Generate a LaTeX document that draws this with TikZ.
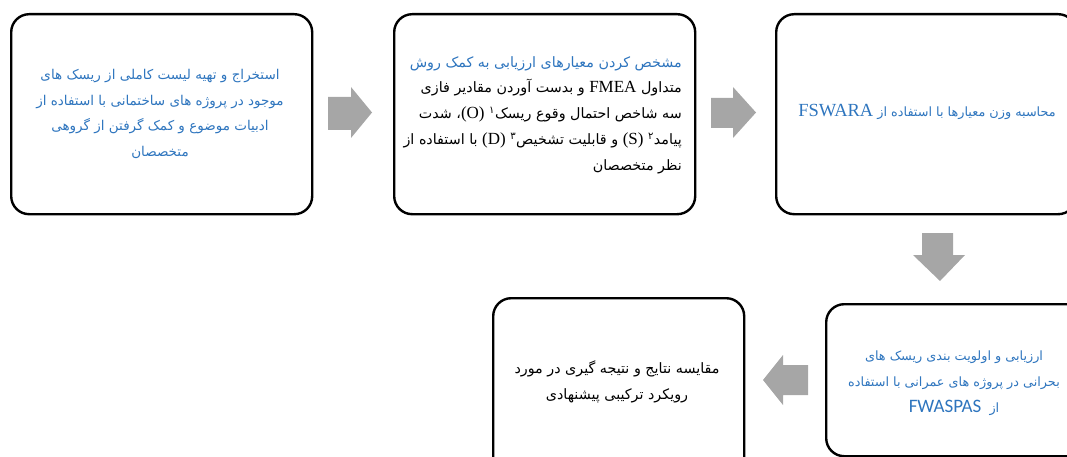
\documentclass[tikz,border=0pt]{standalone}
\usepackage{fontspec}
\usepackage{xcolor}
\TeXXeTstate=1
\newfontfamily\farsifont[Script=Arabic]{DejaVu Sans}
\newfontfamily\latserif{Liberation Serif}
\newfontfamily\carlitofont{Carlito}
\definecolor{tblue}{RGB}{46,117,190}
\definecolor{agray}{RGB}{166,166,166}
\newcommand\blkseg[1]{\hbox{\textcolor{black}{\beginR #1\endR}}}
\newcommand\latw[1]{{\latserif\fontsize{17pt}{26pt}\selectfont #1}}
\begin{document}
\begin{tikzpicture}[x=1pt,y=-1pt,
  box/.style={draw=black, line width=2.4pt, rounded corners=18pt, anchor=north west, inner sep=0pt},
  txt/.style={inner sep=0pt, font=\farsifont\fontsize{#1}{25.8pt}\selectfont},
  txt/.default=13.8pt,
  blockarrow/.style={fill=agray, draw=none}]
\useasboundingbox (0,0) rectangle (1067,457);
\clip (0,0) rectangle (1067,457);
% boxes
\node[box, minimum width=301pt, minimum height=200pt] (b1) at (10,13) {};
\node[box, minimum width=301pt, minimum height=200pt] (b2) at (393,13) {};
\node[box, minimum width=300pt, minimum height=200pt] (b3) at (775,13) {};
\node[box, minimum width=260pt, minimum height=152pt] (b4) at (825,303) {};
\node[box, minimum width=251pt, minimum height=180pt] (b5) at (492,297) {};
% texts
\node[txt=13.5pt, text=tblue, align=center] (t1) at (160,114) {%
\beginR استخراج و تهیه لیست کاملی از ریسک های\endR\\
\beginR موجود در پروژه های ساختمانی با استفاده از\endR\\
\beginR ادبیات موضوع و کمک گرفتن از گروهی\endR\\
\beginR متخصصان\endR};
\node[txt=14.3pt, text=tblue, align=right, anchor=east] (t2) at (682,115) {%
\beginR مشخص کردن معیارهای ارزیابی به کمک روش\endR\\
\beginR متداول \latw{FMEA} \blkseg{و بدست آوردن مقادیر فازی}\endR\\
\beginR سه شاخص احتمال وقوع ریسک\textsuperscript{۱} \latw{(O)}، شدت\endR\\
\beginR پیامد\textsuperscript{۲} \latw{(S)} و قابلیت تشخیص\textsuperscript{۳} \latw{(D)} \blkseg{با استفاده از}\endR\\
\textcolor{black}{\beginR نظر متخصصان\endR}};
\node[txt=12.8pt, text=tblue] (t3) at (927,112) {%
\beginR محاسبه وزن معیارها با استفاده از {\latserif\fontsize{18.5pt}{26pt}\selectfont FSWARA}\endR};
\node[txt=12.8pt, text=tblue, align=center] (t4) at (954,383) {%
\beginR ارزیابی و اولویت بندی ریسک های\endR\\
\beginR بحرانی در پروژه های عمرانی با استفاده\endR\\
\beginR از\ \ {\carlitofont\fontsize{19pt}{26pt}\selectfont FWASPAS}\endR};
\node[txt=14.3pt, text=black, align=center] (t5) at (617,382) {%
\beginR مقایسه نتایج و نتیجه گیری در مورد\endR\\
\beginR رویکرد ترکیبی پیشنهادی\endR};
% block arrows
\fill[blockarrow] (328,97) -- (351,97) -- (351,87) -- (372,112.5) -- (351,138) -- (351,130) -- (328,130) -- cycle;
\fill[blockarrow] (711,98) -- (733,98) -- (733,87) -- (756,112.5) -- (733,138) -- (733,128) -- (711,128) -- cycle;
\fill[blockarrow] (922,233) -- (953,233) -- (953,255) -- (965,255) -- (940,281) -- (913,255) -- (922,255) -- cycle;
\fill[blockarrow] (808,365) -- (808,395) -- (783,395) -- (783,405) -- (763,380) -- (783,355) -- (783,365) -- cycle;
\end{tikzpicture}
\end{document}
